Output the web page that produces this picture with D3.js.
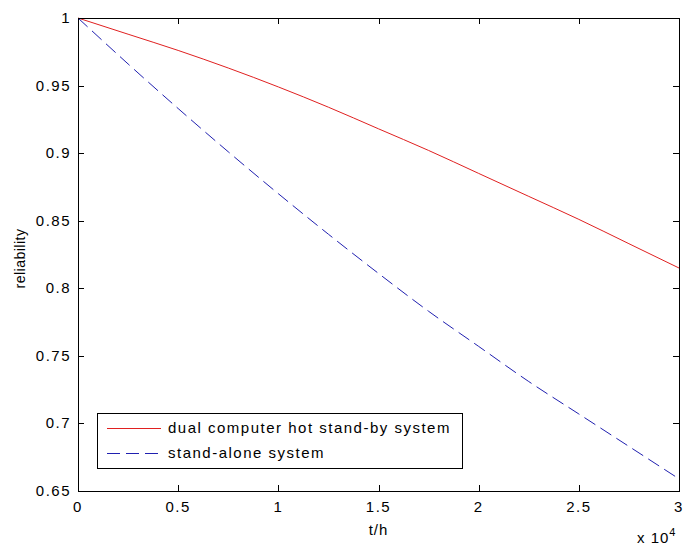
<!DOCTYPE html>
<html lang="en">
<head>
  <meta charset="UTF-8">
  <title>Reliability</title>
  <script src="https://d3js.org/d3.v7.min.js"></script>
  <style>
    body {
      margin: 0;
      padding: 0;
      background-color: #fff;
    }
    text {
      font-family: "Liberation Sans", Arial, Helvetica, sans-serif;
      fill: #000;
    }
    .tick-label {
      font-size: 15px;
      letter-spacing: 1.5px;
    }
    .legend-label {
      font-size: 15px;
      letter-spacing: 1.5px;
    }
  </style>
</head>
<body>
<div id="chart"></div>

<script>
  // time in units of 10^4 h
  const tValues = [0, 0.25, 0.5, 0.75, 1, 1.25, 1.5, 1.75, 2, 2.25, 2.5, 2.75, 3];
  const dualValues = [1, 0.988, 0.976, 0.963, 0.949, 0.934, 0.918, 0.902, 0.885, 0.868, 0.851, 0.833, 0.815];
  const singleValues = [1, 0.966, 0.933, 0.901, 0.870, 0.840, 0.811, 0.783, 0.757, 0.731, 0.707, 0.683, 0.659];

  const xTicks = [0, 0.5, 1, 1.5, 2, 2.5, 3];
  const yTicks = [0.65, 0.7, 0.75, 0.8, 0.85, 0.9, 0.95, 1];
  const seriesNames = ["dual computer hot stand-by system", "stand-alone system"];

  const width = 683,
        height = 548;
  const margin = {left: 78, right: 4, top: 18, bottom: 57};
  const tickLen = 6;

  const svg = d3.select("#chart")
    .append("svg")
    .attr("width", width)
    .attr("height", height);

  const x = d3.scaleLinear()
    .domain([0, 3])
    .range([margin.left, width - margin.right]);

  const y = d3.scaleLinear()
    .domain([0.65, 1])
    .range([height - margin.bottom, margin.top]);

  const x0 = x.range()[0], x1 = x.range()[1];
  const y0 = y.range()[0], y1 = y.range()[1];

  // curves
  const line = d3.line()
    .x((d, i) => x(tValues[i]))
    .y(d => y(d))
    .curve(d3.curveMonotoneX);

  svg.append("path")
    .datum(dualValues)
    .attr("fill", "none")
    .attr("stroke", "#e02020")
    .attr("stroke-width", 1)
    .attr("d", line);

  svg.append("path")
    .datum(singleValues)
    .attr("fill", "none")
    .attr("stroke", "#2020b0")
    .attr("stroke-width", 1)
    .attr("stroke-dasharray", "13,6")
    .attr("d", line);

  // ticks, inward on all four sides
  const ticks = svg.append("g").attr("stroke", "#000").attr("stroke-width", 1);
  xTicks.forEach(t => {
    const px = Math.round(x(t)) + 0.5;
    ticks.append("line").attr("x1", px).attr("x2", px).attr("y1", y0).attr("y2", y0 - tickLen);
    ticks.append("line").attr("x1", px).attr("x2", px).attr("y1", y1).attr("y2", y1 + tickLen);
  });
  yTicks.forEach(v => {
    const py = Math.round(y(v)) + 0.5;
    ticks.append("line").attr("x1", x0).attr("x2", x0 + tickLen).attr("y1", py).attr("y2", py);
    ticks.append("line").attr("x1", x1).attr("x2", x1 - tickLen).attr("y1", py).attr("y2", py);
  });

  // axes box
  svg.append("rect")
    .attr("x", Math.round(x0) + 0.5)
    .attr("y", Math.round(y1) + 0.5)
    .attr("width", Math.round(x1 - x0))
    .attr("height", Math.round(y0 - y1))
    .attr("fill", "none")
    .attr("stroke", "#000")
    .attr("stroke-width", 1);

  // tick labels
  svg.selectAll(".xlab")
    .data(xTicks)
    .enter()
    .append("text")
    .attr("class", "tick-label")
    .attr("x", d => x(d))
    .attr("y", y0 + 21)
    .attr("text-anchor", "middle")
    .text(d => d3.format("~g")(d));

  svg.selectAll(".ylab")
    .data(yTicks)
    .enter()
    .append("text")
    .attr("class", "tick-label")
    .attr("x", x0 - 7)
    .attr("y", d => y(d) + 5)
    .attr("text-anchor", "end")
    .text(d => d3.format("~g")(d));

  // axis labels
  svg.append("text")
    .attr("x", (x0 + x1) / 2)
    .attr("y", y0 + 44)
    .attr("text-anchor", "middle")
    .style("font-size", "15px")
    .style("letter-spacing", "1px")
    .text("t/h");

  svg.append("text")
    .attr("transform", `translate(25, ${(y0 + y1) / 2 + 4}) rotate(-90)`)
    .attr("text-anchor", "middle")
    .style("font-size", "14px")
    .style("letter-spacing", "0.5px")
    .text("reliability");

  // exponent label
  const expo = svg.append("text")
    .attr("x", 637)
    .attr("y", y0 + 52)
    .style("font-size", "15px")
    .style("letter-spacing", "1px");
  expo.append("tspan").text("x 10");
  expo.append("tspan")
    .attr("dy", -7)
    .style("font-size", "11px")
    .text("4");

  // legend
  const legend = svg.append("g");
  legend.append("rect")
    .attr("x", 97.5)
    .attr("y", 413.5)
    .attr("width", 365)
    .attr("height", 55)
    .attr("fill", "#fff")
    .attr("stroke", "#000")
    .attr("stroke-width", 1);

  const legendStyles = [
    {color: "#e02020", dash: null},
    {color: "#2020b0", dash: "13,6"}
  ];
  seriesNames.forEach((name, i) => {
    const ly = 428 + i * 25;
    legend.append("line")
      .attr("x1", 107).attr("x2", 161)
      .attr("y1", ly + 0.5).attr("y2", ly + 0.5)
      .attr("stroke", legendStyles[i].color)
      .attr("stroke-width", 1)
      .attr("stroke-dasharray", legendStyles[i].dash);
    legend.append("text")
      .attr("class", "legend-label")
      .attr("x", 168)
      .attr("y", ly + 5)
      .text(name);
  });
</script>
</body>
</html>
